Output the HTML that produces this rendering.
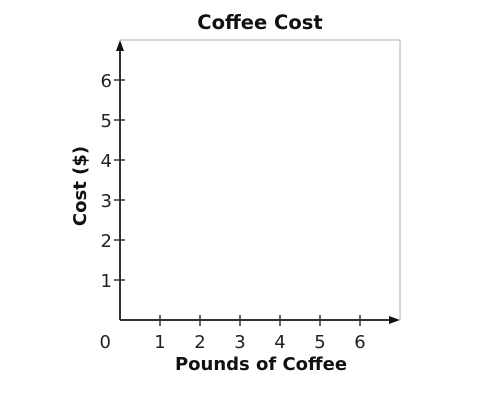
<!DOCTYPE html>
<html><head><meta charset="utf-8"><style>
body{margin:0;background:#fff;}
svg{display:block;font-family:"DejaVu Sans","Liberation Sans",sans-serif;}
</style></head><body>
<svg id="chart" width="500" height="410">
<text x="260" y="29" text-anchor="middle" font-size="19.5" font-weight="bold" fill="#111">Coffee Cost</text>
<line x1="120" y1="40" x2="400" y2="40" stroke="#ccc" stroke-width="1.5"/>
<line x1="400" y1="40" x2="400" y2="320" stroke="#ccc" stroke-width="1.5"/>
<g id="axes"></g>
<text x="111" y="348" text-anchor="end" font-size="18" fill="#222">0</text>
<text x="261" y="370" text-anchor="middle" font-size="18" font-weight="bold" fill="#111">Pounds of Coffee</text>
<text transform="translate(86,186) rotate(-90)" text-anchor="middle" font-size="18" font-weight="bold" fill="#111">Cost ($)</text>
</svg>
<script>
const xTicks=[1,2,3,4,5,6];
const yTicks=[1,2,3,4,5,6];
const ns="http://www.w3.org/2000/svg";
const g=document.getElementById('axes');
const xs=v=>120+v*40, ys=v=>320-v*40;
function mk(t,a){const e=document.createElementNS(ns,t);for(const k in a)e.setAttribute(k,a[k]);g.appendChild(e);return e;}
let e=mk('line',{x1:120,y1:320,x2:392,y2:320,stroke:'#333','stroke-width':2});


e=mk('polygon',{points:'400,320 389,316 389,324',fill:'#111'});


e=mk('line',{x1:120,y1:320,x2:120,y2:48,stroke:'#333','stroke-width':2});


e=mk('polygon',{points:'120,40 116,51 124,51',fill:'#111'});


xTicks.forEach(v=>{
 let t=mk('line',{x1:xs(v),y1:315,x2:xs(v),y2:326,stroke:'#333','stroke-width':1.5});
 
 
 let l=mk('text',{x:xs(v),y:348,'text-anchor':'middle','font-size':18,fill:'#222'});
 l.textContent=v;
 
 
});
yTicks.forEach(v=>{
 let t=mk('line',{x1:114,y1:ys(v),x2:125,y2:ys(v),stroke:'#333','stroke-width':1.5});
 
 
 let l=mk('text',{x:112,y:ys(v)+7,'text-anchor':'end','font-size':18,fill:'#222'});
 l.textContent=v;
 
 
});
</script>
</body></html>
